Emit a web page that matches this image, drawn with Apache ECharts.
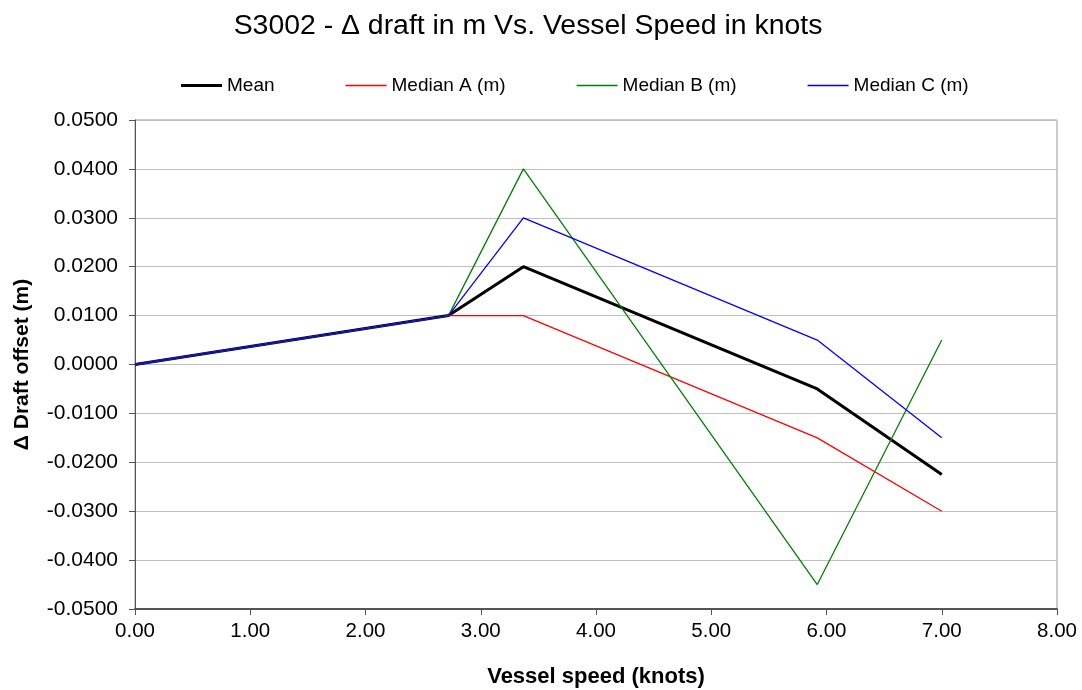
<!DOCTYPE html>
<html><head><meta charset="utf-8">
<script src="https://cdn.jsdelivr.net/npm/echarts@6/dist/echarts.min.js"></script>
<style>html,body{margin:0;padding:0;background:#fff}#c{width:1082px;height:690px}</style>
</head><body><div id="c"></div>
<script>
var speeds = [0, 2.72, 3.37, 5.92, 7.0];
var meanVals = [0, 0.01, 0.02, -0.005, -0.0225];
var medianA = [0, 0.01, 0.01, -0.015, -0.03];
var medianB = [0, 0.01, 0.04, -0.045, 0.005];
var medianC = [0, 0.01, 0.03, 0.005, -0.015];
var seriesNames = ['Mean', 'Median A (m)', 'Median B (m)', 'Median C (m)'];
var titleText = 'S3002 - \u0394 draft in m Vs. Vessel Speed in knots';
var xName = 'Vessel speed (knots)';
var yName = '\u0394 Draft offset (m)';

function pairs(v){ return speeds.map(function(s,i){ return [s, v[i]]; }); }
var font = 'Liberation Sans, Arial, sans-serif';
var chart = echarts.init(document.getElementById('c'));
function mk(name, vals, color, w){
  return {name:name, type:'line', data:pairs(vals), symbol:'none',
    lineStyle:{color:color, width:w}, itemStyle:{color:color}, animation:false};
}
var thick = 'path://M0,3.5 L41,3.5 L41,6.5 L0,6.5 Z';
var thin = 'path://M0,4.3 L41,4.3 L41,5.7 L0,5.7 Z';
chart.setOption({
  backgroundColor:'#fff',
  animation:false,
  title:{text:titleText, left:523, textAlign:'center', top:7,
    textStyle:{fontFamily:font, fontSize:28.4, fontWeight:'normal', color:'#000'}},
  legend:{left:176, top:71, itemWidth:41, itemHeight:10, itemGap:71,
    textStyle:{fontFamily:font, fontSize:19, color:'#000'},
    data:[{name:seriesNames[0], icon:thick},{name:seriesNames[1], icon:thin},
          {name:seriesNames[2], icon:thin},{name:seriesNames[3], icon:thin}]},
  grid:{left:135, right:25, top:120, bottom:81, show:true, borderColor:'#999', borderWidth:1,
    containLabel:false, outerBoundsMode:'none'},
  xAxis:{type:'value', min:0, max:8, interval:1,
    name:xName, nameLocation:'middle', nameGap:57,
    nameTextStyle:{fontFamily:font, fontSize:22, fontWeight:'bold', color:'#000'},
    axisLine:{onZero:false, lineStyle:{color:'#555', width:2}},
    axisTick:{show:true, length:6, lineStyle:{color:'#555'}},
    axisLabel:{fontFamily:font, fontSize:20.5, color:'#000', margin:12,
      formatter:function(v){return v.toFixed(2);}},
    splitLine:{show:false}},
  yAxis:{type:'value', min:-0.05, max:0.05, interval:0.01,
    name:yName, nameLocation:'middle', nameGap:102, nameRotate:90,
    nameTextStyle:{fontFamily:font, fontSize:21, fontWeight:'bold', color:'#000'},
    axisLine:{onZero:false, lineStyle:{color:'#555', width:1}},
    axisTick:{show:true, length:6, lineStyle:{color:'#555'}},
    axisLabel:{fontFamily:font, fontSize:21, color:'#000', margin:17,
      formatter:function(v){return v.toFixed(4);}},
    splitLine:{show:true, lineStyle:{color:'#c0c0c0', width:1}}},
  series:[
    mk(seriesNames[0], meanVals, '#000000', 3),
    mk(seriesNames[1], medianA, '#ff0000', 1.3),
    mk(seriesNames[2], medianB, '#008000', 1.3),
    mk(seriesNames[3], medianC, '#0000ff', 1.3)
  ]
});
</script></body></html>
